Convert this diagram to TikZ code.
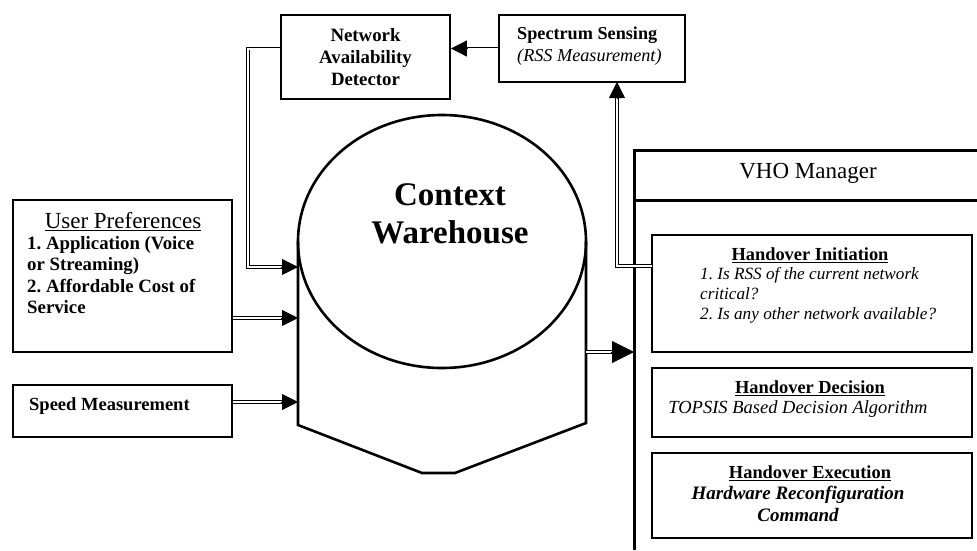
\documentclass[tikz,border=0pt]{standalone}
\usepackage{fontspec}
\setmainfont{Liberation Serif}
\usetikzlibrary{arrows.meta,calc}
\frenchspacing
\begin{document}
\begin{tikzpicture}[x=1pt,y=-1pt,
  box/.style={draw, line width=1.8pt, inner sep=0pt},
  sub/.style={draw, line width=1.2pt, inner sep=0pt, minimum width=320pt},
  txt/.style={inner sep=0pt},
  dbl/.style={double, line width=0.8pt, double distance=2pt},
  dblk/.style={double, line width=1.6pt, double distance=1.6pt},
  tipsm/.style={-{Triangle[length=16pt,width=16pt]}, line width=0.8pt},
  tipbig/.style={-{Triangle[length=22pt,width=22pt]}, line width=1pt},
  thick3/.style={line width=3pt}
]
\useasboundingbox (0,0) rectangle (977,550);

% boxes
\node[box, minimum width=169pt, minimum height=84pt] (nad) at (365.5,57) {};
\node[box, minimum width=186pt, minimum height=67pt] (spec) at (592,48.5) {};
\node[box, minimum width=219pt, minimum height=152pt] (up) at (122.5,276) {};
\node[box, minimum width=219pt, minimum height=52pt] (speed) at (122.5,411) {};

% VHO manager frame
\draw[thick3] (977,150) -- (634,150) -- (634,550);
\draw[thick3] (634,200) -- (977,200);
\node[txt, font=\fontsize{23}{27}\selectfont] (vhot) at (808,173) {VHO Manager};

\node[sub, minimum height=117pt] (hi) at (812,293.5) {};
\node[sub, minimum height=69pt] (hd) at (812,402.5) {};
\node[sub, minimum height=85pt] (he) at (812,495.5) {};

% cylinder
\draw[line width=2.6pt] (442,241.5) ellipse [x radius=144, y radius=126.5];
\draw[line width=2.6pt] (298,241.5) -- (298,425) -- (422,473) -- (455,473) -- (586,423) -- (586,241.5);
\node[txt, align=center, font=\bfseries\fontsize{33}{38}\selectfont] (cw) at (450,214) {Context\\Warehouse};

% texts
\node[txt, align=center, font=\bfseries\fontsize{18.8}{22}\selectfont] (nadt) at (365.5,57) {Network\\Availability\\Detector};
\node[txt, align=left, anchor=west, font=\fontsize{18.2}{22}\selectfont] (spect) at (517,46) {\textbf{Spectrum Sensing}\\\textit{(RSS Measurement)}};
\node[txt, font=\fontsize{23}{27}\selectfont] (upt) at (123,222) {\underline{User Preferences}};
\node[txt, align=left, anchor=north west, font=\bfseries\fontsize{18.8}{21.5}\selectfont] (upi) at (27,236) {1. Application (Voice\\or Streaming)\\2. Affordable Cost of\\Service};
\node[txt, anchor=west, font=\bfseries\fontsize{18.5}{21}\selectfont] (speedt) at (29,406) {Speed Measurement};

\node[txt, font=\bfseries\fontsize{18.4}{21}\selectfont] (hit) at (810,255) {\underline{Handover Initiation}};
\node[txt, align=left, anchor=north west, font=\itshape\fontsize{17.2}{20}\selectfont] (hii) at (700,267) {1.\ Is RSS of the current network\\critical?\\2.\ Is any other network available?};
\node[txt, font=\bfseries\fontsize{18.4}{21}\selectfont] (hdt) at (810,388) {\underline{Handover Decision}};
\node[txt, font=\itshape\fontsize{18.5}{21}\selectfont] (hdi) at (798,409) {TOPSIS Based Decision Algorithm};
\node[txt, font=\bfseries\fontsize{18.4}{21}\selectfont] (het) at (810,473) {\underline{Handover Execution}};
\node[txt, align=center, font=\bfseries\itshape\fontsize{19}{22}\selectfont] (hei) at (798,504) {Hardware Reconfiguration\\Command};

% connector coordinates
\coordinate (cin1) at (298,267);
\coordinate (cin2) at (298,318);
\coordinate (cin3) at (298,402);
\coordinate (cout) at (586,352);
\coordinate (vhoin) at (634,352);
\coordinate (bend1) at (248,267);
\coordinate (hiin) at (652,266);
\coordinate (specin) at (617,82);

% Spectrum -> NAD
\draw[dbl, shorten >=14pt] (spec.west) -- (spec.west -| nad.east);
\draw[tipsm] ($(spec.west -| nad.east)+(17,0)$) -- (spec.west -| nad.east);

% NAD -> cylinder
\draw[dbl, shorten >=14pt] (nad.west |- spec.west) -| (bend1) -- (cin1);
\draw[tipsm] ($(cin1)+(-17,0)$) -- (cin1);

% User pref -> cylinder
\draw[dbl, shorten >=14pt] (up.east |- cin2) -- (cin2);
\draw[tipsm] ($(cin2)+(-17,0)$) -- (cin2);

% Speed -> cylinder
\draw[dbl, shorten >=14pt] (speed.east |- cin3) -- (cin3);
\draw[tipsm] ($(cin3)+(-17,0)$) -- (cin3);

% cylinder -> VHO
\draw[dblk, shorten >=20pt] (cout) -- (vhoin);
\draw[tipbig] ($(vhoin)+(-23,0)$) -- (vhoin);

% Handover initiation -> spectrum
\draw[dbl, shorten >=14pt] (hiin) -| (specin);
\draw[tipsm] ($(specin)+(0,17)$) -- (specin);
\end{tikzpicture}
\end{document}
